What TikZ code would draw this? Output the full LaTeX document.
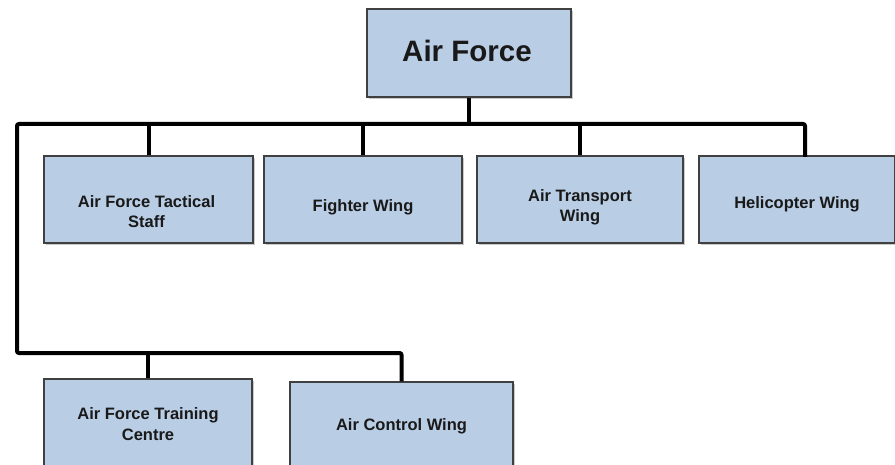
\documentclass[tikz,border=0pt]{standalone}
\usepackage{fontspec}
\setmainfont{Liberation Sans}
\usetikzlibrary{shadows,calc}
\definecolor{boxfill}{HTML}{B9CDE5}
\definecolor{boxline}{HTML}{404040}
\begin{document}
\begin{tikzpicture}[x=1pt,y=-1pt,
  unit/.style={draw=boxline,line width=1.3pt,fill=boxfill,
    inner sep=0pt,
    drop shadow={shadow xshift=1.5pt,shadow yshift=-2pt,opacity=0.35,fill=black!60}},
  lbl/.style={align=center,font=\bfseries\fontsize{16.5}{20.5}\selectfont,text=black!90,inner sep=0pt},
  conn/.style={line width=4pt,draw=black,rounded corners=2pt}]
\useasboundingbox (0,0) rectangle (895,465);
\begin{scope}
\clip (0,0) rectangle (895,465);
\node[unit,minimum width=204pt,minimum height=88pt] (af) at (469,53) {};
\node[unit,minimum width=209pt,minimum height=87pt] (b1) at (148.5,199.5) {};
\node[unit,minimum width=198pt,minimum height=87pt] (b2) at (363,199.5) {};
\node[unit,minimum width=206pt,minimum height=87pt] (b3) at (580,199.5) {};
\node[unit,minimum width=196pt,minimum height=87pt] (b4) at (797,199.5) {};
\node[unit,minimum width=208pt,minimum height=88pt] (b5) at (148,423) {};
\node[unit,minimum width=223pt,minimum height=88pt] (b6) at (401.5,426) {};
\end{scope}
\node[lbl,font=\bfseries\fontsize{29.5}{34}\selectfont] (taf) at ($(af)+(-2,-2)$) {Air Force};
\node[lbl] (t1) at ($(b1)+(-2,12)$) {Air Force Tactical\\Staff};
\node[lbl] (t2) at ($(b2)+(0,8)$) {Fighter Wing};
\node[lbl] (t3) at ($(b3)+(0,8)$) {Air Transport\\Wing};
\node[lbl] (t4) at ($(b4)+(0,5)$) {Helicopter Wing};
\node[lbl] (t5) at ($(b5)+(0,1)$) {Air Force Training\\Centre};
\node[lbl] (t6) at ($(b6)+(0,0)$) {Air Control Wing};
\coordinate (busT) at (17,124);
\coordinate (busB) at (17,353);
\coordinate (heli) at (805,157);
\draw[conn] (heli) |- (busT) -- (busB) -| (b6.north);
\draw[conn] (af.south) -- (af.south |- busT);
\draw[conn] (b1.north) -- (b1.north |- busT);
\draw[conn] (b2.north) -- (b2.north |- busT);
\draw[conn] (b3.north) -- (b3.north |- busT);
\draw[conn] (b5.north) -- (b5.north |- busB);
\end{tikzpicture}
\end{document}
